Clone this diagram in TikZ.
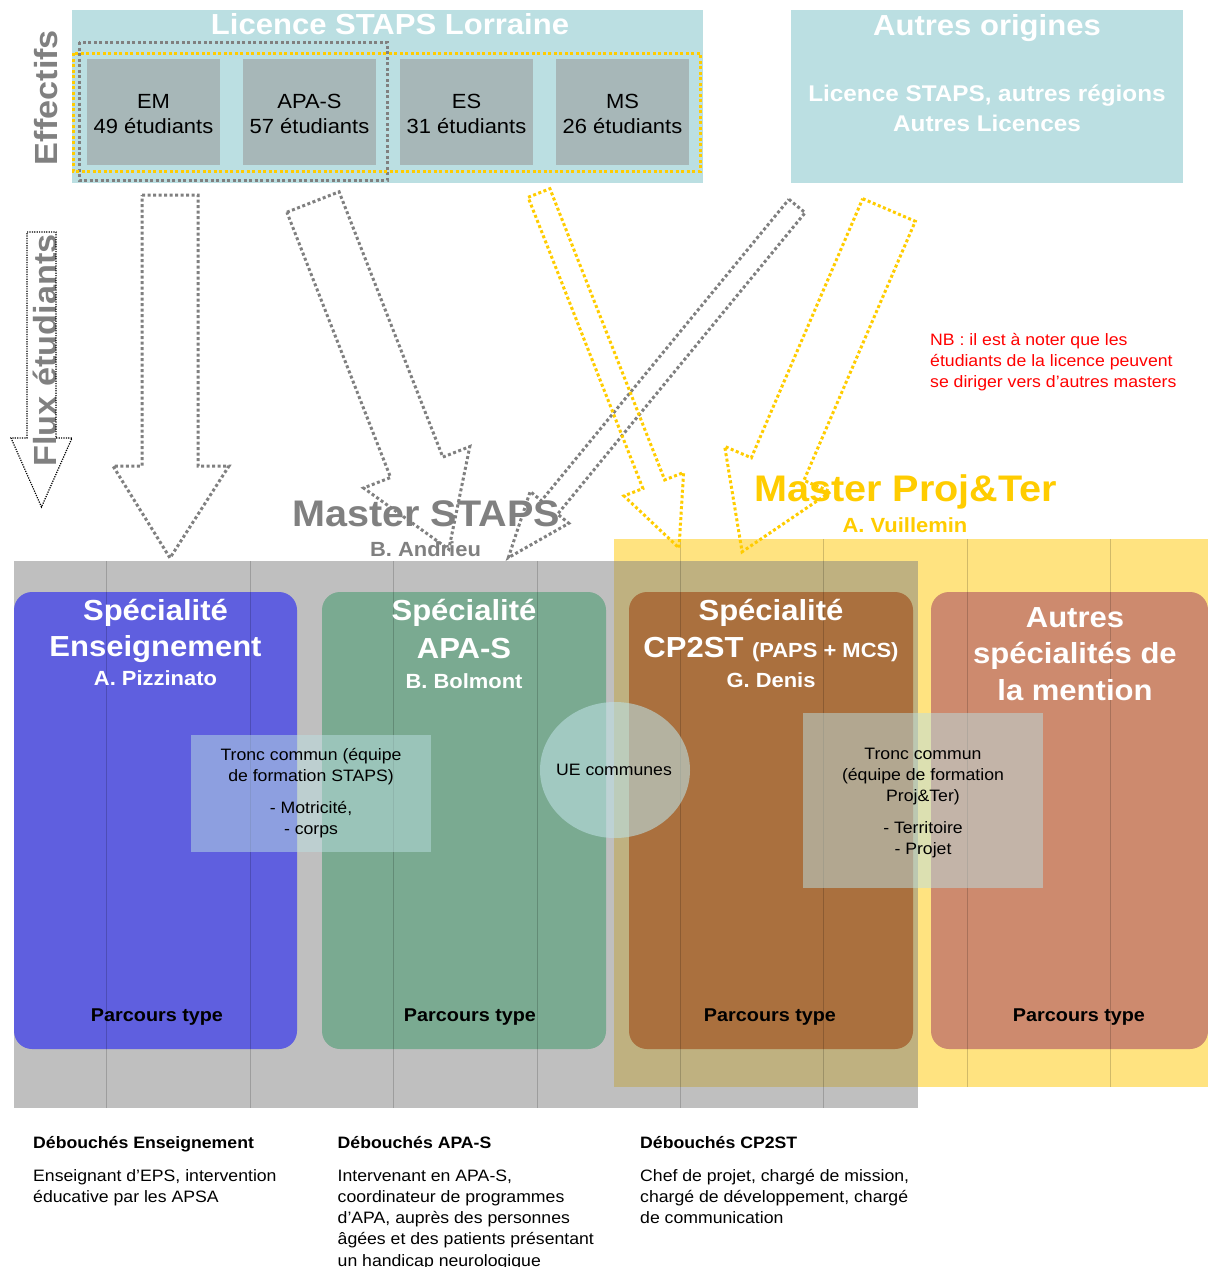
\documentclass[tikz,border=0pt]{standalone}
\usepackage{fontspec}
\setmainfont{Liberation Sans}[FakeStretch=1.07]
\usetikzlibrary{positioning}

\definecolor{licbg}{HTML}{BBDFE2}
\definecolor{licbox}{HTML}{A7B7B8}
\definecolor{flowgray}{HTML}{808080}
\definecolor{projyel}{HTML}{FFCC00}
\definecolor{zoneyel}{HTML}{FFE380}
\definecolor{enscol}{HTML}{5F5FDF}
\definecolor{apacol}{HTML}{7AAA91}
\definecolor{cpcol}{HTML}{AA703E}
\definecolor{autcol}{HTML}{CD8A6E}

\newcommand{\fsz}[2]{\fontsize{#1}{#2}\selectfont}

\tikzset{
    txt/.style={inner sep=0pt, anchor=base, align=center},
    flowdots/.style={line width=3pt, dash pattern=on 3pt off 2.5pt},
    spec/.style={rounded corners=18pt},
    gridline/.style={black, opacity=0.18, line width=0.7pt},
}

\begin{document}
\begin{tikzpicture}[x=1pt,y=-1pt]
        \useasboundingbox (0,0) rectangle (1208,1267);
        % licence et autres origines
        \fill[licbg] (72,10) rectangle (703,183);
        \fill[licbg] (791,10) rectangle (1183,183);
        \foreach \x/\nm/\eff [count=\i] in {87/EM/49, 243/APA-S/57, 400/ES/31, 556/MS/26} {
            \fill[licbox] (\x,59) rectangle ++(133,106);
            \node[txt, font=\fsz{20.5}{25}] (lic\i) at (\x+66.5,133) {\nm\\\eff{} étudiants};
        }
        \draw[flowgray, flowdots] (79,42) rectangle (387,180);
        \draw[projyel, flowdots] (73,53) rectangle (700,171);
        \node[txt, white, font=\bfseries\fsz{29}{35}] (lictitle) at (390,34.5) {Licence STAPS Lorraine};
        \node[txt, white, font=\bfseries\fsz{29}{35}] (autitle) at (987,35) {Autres origines};
        \node[txt, white, font=\bfseries\fsz{22.7}{30}] (autlist) at (987,131.7) {Licence STAPS, autres régions\\Autres Licences};
        \node[txt, flowgray, rotate=90, font=\bfseries\fsz{32}{36}] (effectifs) at (57,97.5) {Effectifs};
        \node[txt, flowgray, rotate=90, font=\bfseries\fsz{32}{36}] (flux) at (56,350.5) {Flux étudiants};
        \draw[black, line width=1.2pt, dash pattern=on 1.2pt off 1.2pt] (27,232) -- (56,232) -- (56,438) -- (72,438) -- (41.5,507) -- (11,438) -- (27,438) -- cycle;
        \node[txt, anchor=base west, align=left, red, font=\fsz{16.5}{20.7}] (nb) at (930,387) {NB : il est à noter que les\\étudiants de la licence peuvent\\se diriger vers d’autres masters};

        % masters
        \fill[zoneyel] (614,539) rectangle (1208,1087);
        \fill[black!50, fill opacity=0.5] (14,561) rectangle (918,1108);
        \fill[enscol, spec] (14,592) rectangle (297,1049);
        \fill[apacol, spec] (322,592) rectangle (606,1049);
        \fill[cpcol, spec] (629,592) rectangle (913,1049);
        \fill[autcol, spec] (931,592) rectangle (1208,1049);
        \foreach \x in {106,250,393,537}
            \draw[gridline] (\x,561) -- (\x,1108);
        \foreach \x in {680,823}
            \draw[gridline] (\x,539) -- (\x,1108);
        \foreach \x in {967,1110}
            \draw[gridline] (\x,539) -- (\x,1087);
        \fill[licbg, fill opacity=0.5] (191,735) rectangle (431,852);
        \fill[licbg, fill opacity=0.5] (803,713) rectangle (1043,888);
        \fill[licbg, fill opacity=0.6] (615,770) ellipse [x radius=75, y radius=68];

        \node[txt, white, font=\bfseries\fsz{29}{36.7}] (ensT) at (155.5,656.7) {Spécialité\\Enseignement};
        \node[txt, white, font=\bfseries\fsz{20.5}{25}] (ensN) at (155.5,685) {A. Pizzinato};
        \node[txt, white, font=\bfseries\fsz{29}{38}] (apaT) at (464,658) {Spécialité\\APA-S};
        \node[txt, white, font=\bfseries\fsz{20.5}{25}] (apaN) at (464,688) {B. Bolmont};
        \node[txt, white, font=\bfseries\fsz{29}{37}] (cpT) at (771,657) {Spécialité\\CP2ST {\fsz{20.5}{25}(PAPS + MCS)}};
        \node[txt, white, font=\bfseries\fsz{20.5}{25}] (cpN) at (771,687) {G. Denis};
        \node[txt, white, font=\bfseries\fsz{29}{36.5}] (autT) at (1075,700) {Autres\\spécialités de\\la mention};
        \foreach \x/\nm in {157/ens, 470/apa, 770/cp, 1079/aut}
            \node[txt, font=\bfseries\fsz{18.5}{22}] (parc\nm) at (\x,1021) {Parcours type};
        \node[txt, font=\fsz{16.5}{21}] (tronc1) at (311,834) {Tronc commun (équipe\\de formation STAPS)\\[11pt]- Motricité,\\- corps};
        \node[txt, font=\fsz{16.5}{21}] (tronc2) at (923,854) {Tronc commun\\(équipe de formation\\Proj\&Ter)\\[11pt]- Territoire\\- Projet};
        \node[txt, font=\fsz{16.5}{21}] (ue) at (614,775) {UE communes};

        \node[txt, flowgray, font=\bfseries\fsz{37}{42}] (mstaps) at (426,526.7) {Master STAPS};
        \node[txt, flowgray, font=\bfseries\fsz{20.5}{25}] (andrieu) at (425.5,556.7) {B. Andrieu};
        \node[txt, projyel, font=\bfseries\fsz{37}{42}] (mproj) at (905.6,501.7) {Master Proj\&Ter};
        \node[txt, projyel, font=\bfseries\fsz{20.5}{25}] (vuillemin) at (905,532.7) {A. Vuillemin};

        % debouches
        \node[txt, anchor=base west, align=left, font=\fsz{16.5}{21.3}] (debens) at (33,1202.3) {\textbf{Débouchés Enseignement}\\[11.7pt]Enseignant d’EPS, intervention\\éducative par les APSA};
        \node[txt, anchor=base west, align=left, font=\fsz{16.5}{21.3}] (debapa) at (337.5,1266.2) {\textbf{Débouchés APA-S}\\[11.7pt]Intervenant en APA-S,\\coordinateur de programmes\\d’APA, auprès des personnes\\âgées et des patients présentant\\un handicap neurologique};
        \node[txt, anchor=base west, align=left, font=\fsz{16.5}{21.3}] (debcp) at (640,1223.6) {\textbf{Débouchés CP2ST}\\[11.7pt]Chef de projet, chargé de mission,\\chargé de développement, chargé\\de communication};

        % flux
        \draw[flowgray, flowdots] (142,195) -- (198,195) -- (198,466) -- (229,466) -- (170,558) -- (113,466) -- (142,466) -- cycle;
        \draw[flowgray, flowdots] (286.9,212.2) -- (339.1,191.8) -- (442.8,457.1) -- (469.8,446.6) -- (448.8,549.3) -- (363.6,488) -- (390.6,477.5) -- cycle;
        \draw[flowgray, flowdots] (788.9,199.3) -- (805.1,212.7) -- (557.6,514.1) -- (568.8,523.3) -- (508.3,557.7) -- (530.2,491.5) -- (541.4,500.7) -- cycle;
        \draw[projyel, flowdots] (528.1,197.3) -- (549.9,188.7) -- (664.7,479.9) -- (683.6,472.5) -- (679,548) -- (624,495.9) -- (642.9,488.5) -- cycle;
        \draw[projyel, flowdots] (862.7,198.7) -- (915.3,221.3) -- (803.9,480.4) -- (830.5,491.8) -- (742.1,551.8) -- (724.7,446.4) -- (751.3,457.8) -- cycle;
\end{tikzpicture}
\end{document}
